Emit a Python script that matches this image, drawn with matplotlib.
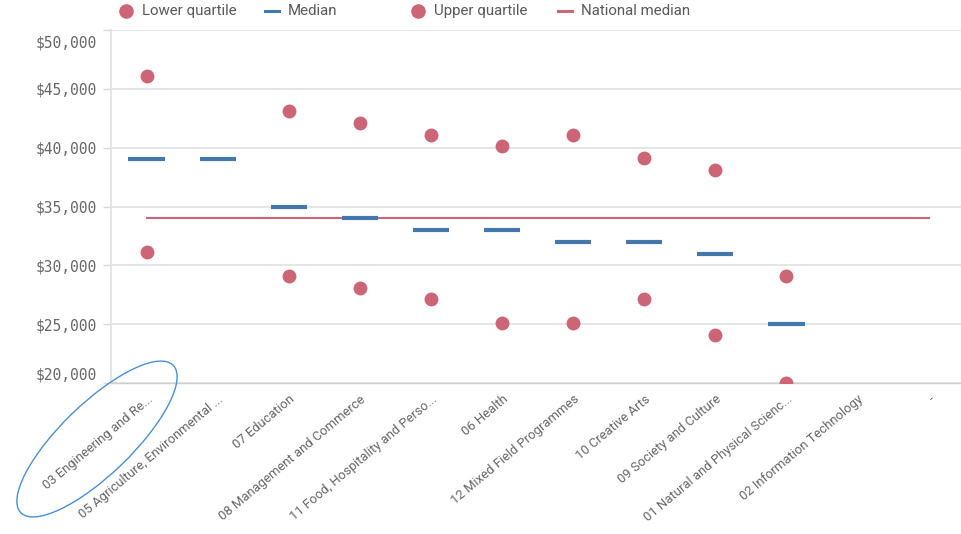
import numpy as np
import matplotlib
matplotlib.use("Agg")
import matplotlib.pyplot as plt
from matplotlib.lines import Line2D
from matplotlib.patches import Ellipse
from matplotlib.transforms import IdentityTransform, ScaledTranslation
from matplotlib.ticker import FuncFormatter

categories = [
    "03 Engineering and Re...",
    "05 Agriculture, Environmental ...",
    "07 Education",
    "08 Management and Commerce",
    "11 Food, Hospitality and Perso...",
    "06 Health",
    "12 Mixed Field Programmes",
    "10 Creative Arts",
    "09 Society and Culture",
    "01 Natural and Physical Scienc...",
    "02 Information Technology",
    "-",
]
nan = np.nan
lower_quartile = [31100, nan, 29100, 28100, 27100, 25100, 25100, 27100, 24100, 20000, nan, nan]
median = [39000, 39000, 35000, 34000, 33000, 33000, 32000, 32000, 31000, 25000, nan, nan]
upper_quartile = [46100, nan, 43100, 42100, 41100, 40100, 41100, 39100, 38100, 29100, nan, nan]
national_median = 34000
y_ticks = [20000, 25000, 30000, 35000, 40000, 45000, 50000]

RED = "#cc6677"
BLUE = "#4477aa"
GRID = "#e3e3e3"
TXT = "#666666"

W, H = 962, 534
fig = plt.figure(figsize=(W / 100, H / 100), dpi=100)
ax = fig.add_axes([111 / W, (H - 383) / H, (W - 111) / W, (383 - 30) / H])

x = np.arange(len(categories))

ax.scatter(x, lower_quartile, s=100, color=RED, zorder=4, clip_on=True, linewidths=0)
ax.scatter(x, upper_quartile, s=100, color=RED, zorder=4, clip_on=True, linewidths=0)
ax.hlines(median, x - 0.255, x + 0.255, color=BLUE, lw=3, zorder=3)
ax.plot(x, [national_median] * len(x), color=RED, lw=1.5, zorder=2)

ax.set_xlim(-0.5, len(categories) - 0.53)
ax.set_ylim(20000, 50000)
ax.set_yticks(y_ticks)
ax.yaxis.set_major_formatter(FuncFormatter(lambda v, p: f"${v:,.0f}"))
ax.grid(axis="y", color=GRID, lw=1.3, zorder=0)
ax.set_axisbelow(True)

for s in ["top", "right"]:
    ax.spines[s].set_visible(False)
ax.spines["left"].set_color("#e3e3e3")
ax.spines["left"].set_linewidth(1.3)
ax.spines["bottom"].set_color("#cfcfcf")
ax.spines["bottom"].set_linewidth(1.0)

ax.tick_params(axis="y", length=6, width=1.0, color="#d9d9d9", pad=4,
               labelsize=10.5, labelcolor=TXT)
for lab in ax.get_yticklabels():
    lab.set_fontfamily("DejaVu Sans Mono")
ylabs = ax.get_yticklabels()
ylabs[0].set_va("bottom")
ylabs[-1].set_va("top")
ylabs[-1].set_transform(ylabs[-1].get_transform() +
                        ScaledTranslation(0, -5 / 100, fig.dpi_scale_trans))

ax.set_xticks(x)
ax.set_xticklabels(categories, rotation=40, ha="right", rotation_mode="anchor",
                   fontfamily="Roboto", fontsize=9.4, color=TXT)
ax.tick_params(axis="x", length=0, pad=7)

# Legend (manual, in pixel coords)
leg_y = H - 11
items = [("o", RED, "Lower quartile", 126),
         ("_", BLUE, "Median", 272),
         ("o", RED, "Upper quartile", 418),
         ("_", RED, "National median", 565)]
for mk, col, label, px in items:
    if mk == "o":
        fig.add_artist(Line2D([px], [leg_y], marker="o", ms=9.5, color=col, ls="none",
                              transform=IdentityTransform()))
    else:
        fig.add_artist(Line2D([px - 7, px + 7], [leg_y, leg_y], color=col, lw=2.2,
                              transform=IdentityTransform()))
    fig.text((px + 16) / W, leg_y / H, label, fontsize=10.8, family="Roboto",
             color="#595959", va="center", ha="left")

# hand-drawn annotation ellipse around the first label
fig.add_artist(Ellipse((97, H - 439), 212, 71, angle=44, fill=False,
                       edgecolor="#4a8fd6", lw=1.0, transform=IdentityTransform()))

fig.savefig("out.png", dpi=100)
